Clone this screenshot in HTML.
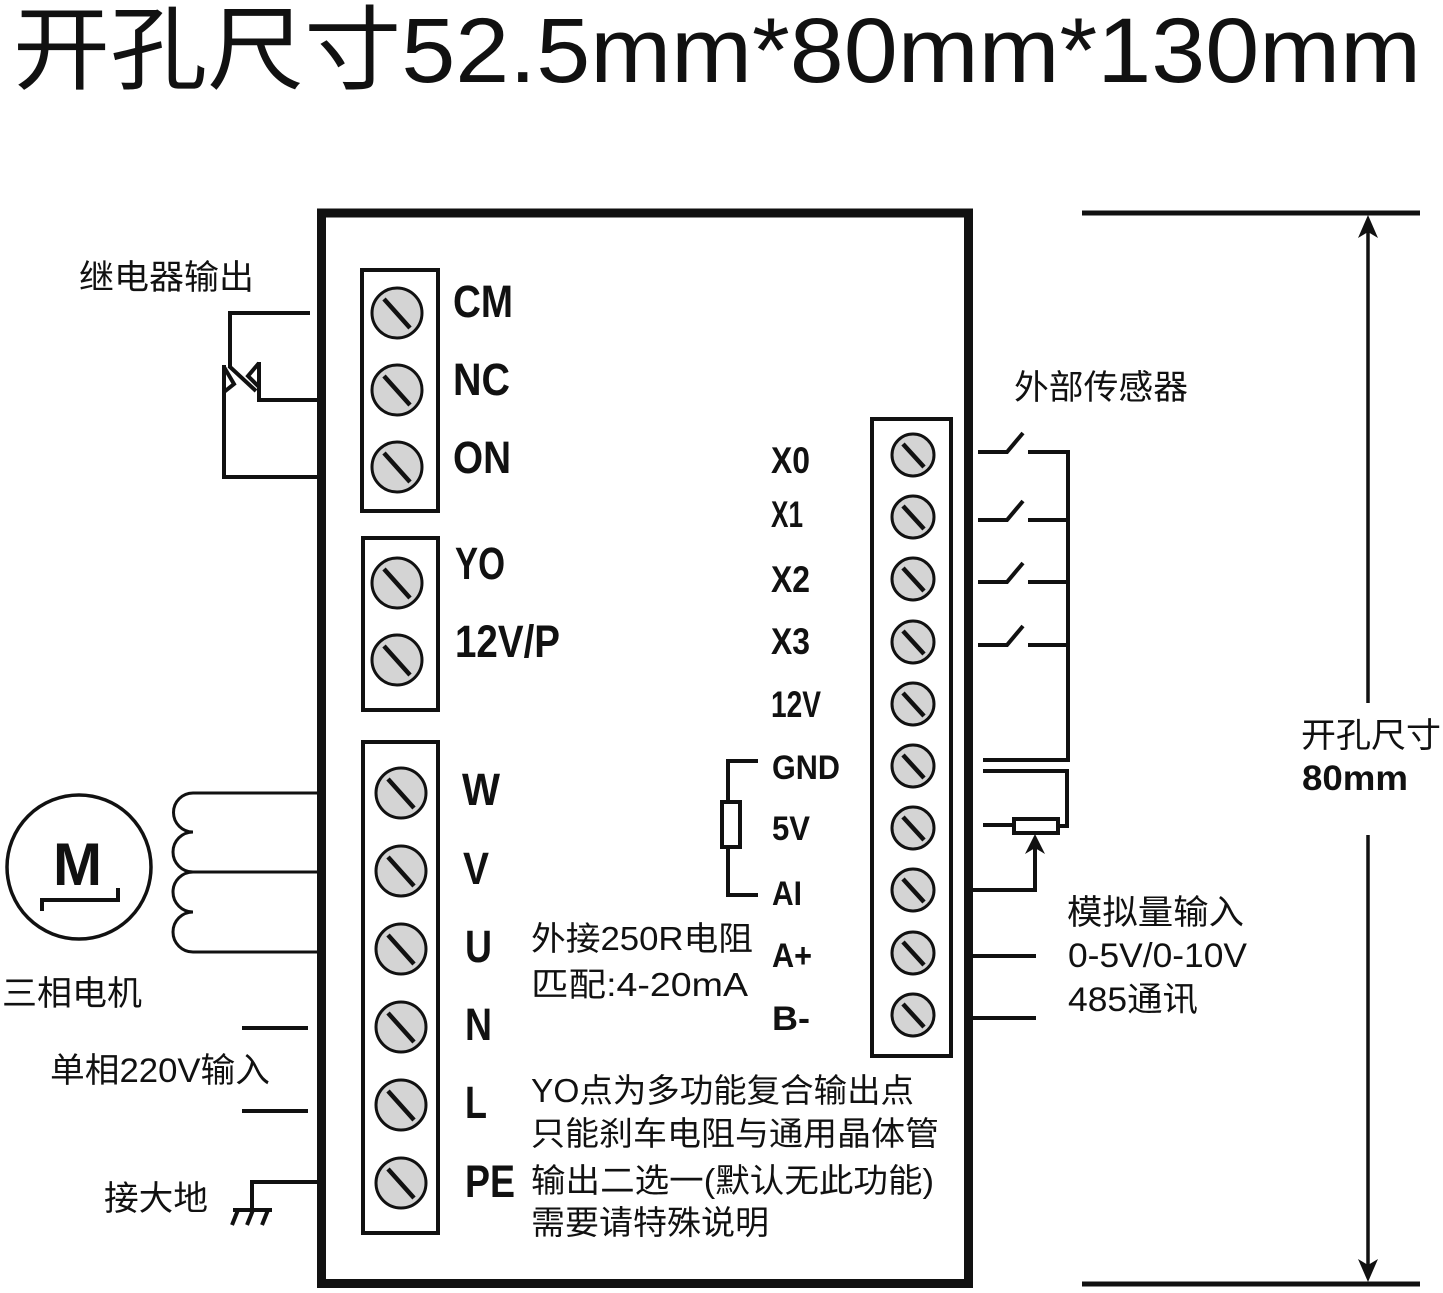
<!DOCTYPE html>
<html>
<head>
<meta charset="utf-8">
<style>
  html, body { margin: 0; padding: 0; background: #fff; }
  body { width: 1443px; height: 1293px; overflow: hidden; }
  svg { display: block; }
  .cjk { font-family: "Liberation Sans", "Noto Sans CJK SC", sans-serif; fill: #111; }
  .bl { font-family: "Liberation Sans", "Noto Sans CJK SC", sans-serif; font-weight: bold; fill: #111; }
</style>
</head>
<body>
<svg width="1443" height="1293" viewBox="0 0 1443 1293" xmlns="http://www.w3.org/2000/svg">
  <rect x="0" y="0" width="1443" height="1293" fill="#fff"/>

  <!-- Title -->
  <text class="cjk" x="13" y="82" font-size="92" font-weight="normal" textLength="1408" lengthAdjust="spacingAndGlyphs">开孔尺寸52.5mm*80mm*130mm</text>

  <!-- Main box -->
  <rect x="321.5" y="213" width="647" height="1070.5" fill="none" stroke="#111" stroke-width="9"/>

  <!-- Terminal blocks -->
  <g fill="none" stroke="#111" stroke-width="4">
    <rect x="362" y="270" width="76" height="241"/>
    <rect x="363" y="538" width="75" height="172"/>
    <rect x="363" y="742" width="75" height="491"/>
    <rect x="872" y="419" width="79" height="637"/>
  </g>

  <!-- Screws left -->
  <g stroke="#111">
    <g fill="#d4d4d4" stroke-width="3">
      <circle cx="397" cy="313" r="25"/>
      <circle cx="397" cy="390" r="25"/>
      <circle cx="397" cy="467" r="25"/>
      <circle cx="397" cy="583" r="25"/>
      <circle cx="397" cy="660" r="25"/>
      <circle cx="401" cy="793" r="25"/>
      <circle cx="401" cy="871" r="25"/>
      <circle cx="401" cy="949" r="25"/>
      <circle cx="401" cy="1027" r="25"/>
      <circle cx="401" cy="1105" r="25"/>
      <circle cx="401" cy="1183" r="25"/>
    </g>
    <g stroke-width="4.5" stroke-linecap="butt">
      <line x1="384" y1="299" x2="410" y2="328"/>
      <line x1="384" y1="376" x2="410" y2="405"/>
      <line x1="384" y1="453" x2="410" y2="482"/>
      <line x1="384" y1="569" x2="410" y2="598"/>
      <line x1="384" y1="646" x2="410" y2="675"/>
      <line x1="388" y1="779" x2="414" y2="808"/>
      <line x1="388" y1="857" x2="414" y2="886"/>
      <line x1="388" y1="935" x2="414" y2="964"/>
      <line x1="388" y1="1013" x2="414" y2="1042"/>
      <line x1="388" y1="1091" x2="414" y2="1120"/>
      <line x1="388" y1="1169" x2="414" y2="1198"/>
    </g>
  </g>

  <!-- Screws right -->
  <g stroke="#111">
    <g fill="#d4d4d4" stroke-width="3">
      <circle cx="913" cy="455" r="21"/>
      <circle cx="913" cy="517" r="21"/>
      <circle cx="913" cy="579" r="21"/>
      <circle cx="913" cy="642" r="21"/>
      <circle cx="913" cy="704" r="21"/>
      <circle cx="913" cy="766" r="21"/>
      <circle cx="913" cy="828" r="21"/>
      <circle cx="913" cy="890" r="21"/>
      <circle cx="913" cy="953" r="21"/>
      <circle cx="913" cy="1015" r="21"/>
    </g>
    <g stroke-width="4.5">
      <line x1="903" y1="444" x2="924" y2="467"/>
      <line x1="903" y1="506" x2="924" y2="529"/>
      <line x1="903" y1="568" x2="924" y2="591"/>
      <line x1="903" y1="631" x2="924" y2="654"/>
      <line x1="903" y1="693" x2="924" y2="716"/>
      <line x1="903" y1="755" x2="924" y2="778"/>
      <line x1="903" y1="817" x2="924" y2="840"/>
      <line x1="903" y1="879" x2="924" y2="902"/>
      <line x1="903" y1="942" x2="924" y2="965"/>
      <line x1="903" y1="1004" x2="924" y2="1027"/>
    </g>
  </g>

  <!-- Left labels (bold) -->
  <g class="bl" font-size="45">
    <text x="453" y="317" textLength="60" lengthAdjust="spacingAndGlyphs">CM</text>
    <text x="453" y="395" textLength="57" lengthAdjust="spacingAndGlyphs">NC</text>
    <text x="453" y="473" textLength="58" lengthAdjust="spacingAndGlyphs">ON</text>
    <text x="455" y="579" textLength="50" lengthAdjust="spacingAndGlyphs">YO</text>
    <text x="455" y="657" textLength="105" lengthAdjust="spacingAndGlyphs">12V/P</text>
    <text x="462" y="805" textLength="38" lengthAdjust="spacingAndGlyphs">W</text>
    <text x="463" y="884" textLength="26" lengthAdjust="spacingAndGlyphs">V</text>
    <text x="465" y="962" textLength="27" lengthAdjust="spacingAndGlyphs">U</text>
    <text x="465" y="1040" textLength="27" lengthAdjust="spacingAndGlyphs">N</text>
    <text x="465" y="1118" textLength="22" lengthAdjust="spacingAndGlyphs">L</text>
    <text x="465" y="1197" textLength="50" lengthAdjust="spacingAndGlyphs">PE</text>
  </g>

  <!-- Right labels (bold) -->
  <g class="bl" font-size="37">
    <text x="771" y="473" textLength="39" lengthAdjust="spacingAndGlyphs">X0</text>
    <text x="771" y="527" textLength="32" lengthAdjust="spacingAndGlyphs">X1</text>
    <text x="771" y="592" textLength="39" lengthAdjust="spacingAndGlyphs">X2</text>
    <text x="771" y="654" textLength="39" lengthAdjust="spacingAndGlyphs">X3</text>
    <text x="771" y="717" textLength="50" lengthAdjust="spacingAndGlyphs">12V</text>
  </g>
  <g class="bl" font-size="34">
    <text x="772" y="779" textLength="68" lengthAdjust="spacingAndGlyphs">GND</text>
    <text x="772" y="840" textLength="38" lengthAdjust="spacingAndGlyphs">5V</text>
    <text x="772" y="905" textLength="30" lengthAdjust="spacingAndGlyphs">AI</text>
    <text x="772" y="967" textLength="40" lengthAdjust="spacingAndGlyphs">A+</text>
    <text x="772" y="1030" textLength="38" lengthAdjust="spacingAndGlyphs">B-</text>
  </g>

  <!-- Relay wiring -->
  <g fill="none" stroke="#111" stroke-width="4" stroke-linejoin="miter">
    <path d="M310,313 H230 V368"/>
    <line x1="229" y1="366" x2="256" y2="391"/>
    <path d="M224,367 L234,384 L224,392"/>
    <path d="M224,365 V477 H318"/>
    <path d="M259,363 L248,376 L259,387"/>
    <path d="M259,362 V400 H318"/>
  </g>

  <!-- Motor -->
  <circle cx="79" cy="867" r="72" fill="none" stroke="#111" stroke-width="3.5"/>
  <text class="bl" x="53" y="885" font-size="60" textLength="49" lengthAdjust="spacingAndGlyphs">M</text>
  <path d="M42,911 V900 H118 V888" fill="none" stroke="#111" stroke-width="4"/>
  <path d="M318,793 H193 A19.5,19.5 0 0 0 193,832 A20,20 0 0 0 193,872 H318 M193,872 A20,20 0 0 0 193,912 A20,20 0 0 0 193,952 H318" fill="none" stroke="#111" stroke-width="3"/>

  <!-- Single phase input lines -->
  <g stroke="#111" stroke-width="4">
    <line x1="242" y1="1028" x2="308" y2="1028"/>
    <line x1="242" y1="1111" x2="308" y2="1111"/>
  </g>

  <!-- Ground -->
  <g fill="none" stroke="#111" stroke-width="4">
    <path d="M318,1182 H252 V1210"/>
    <path d="M233,1210 H272"/>
    <path d="M238,1210 L232,1225"/>
    <path d="M253,1210 L247,1225"/>
    <path d="M268,1210 L262,1225"/>
  </g>

  <!-- 250R resistor -->
  <g fill="none" stroke="#111" stroke-width="4">
    <path d="M758,761 H728 V800"/>
    <rect x="722" y="802" width="18" height="45"/>
    <path d="M728,849 V895 H758"/>
  </g>

  <!-- Sensor switches / pot / comms -->
  <g fill="none" stroke="#111" stroke-width="4">
    <path d="M978,452 H1007 L1023,433"/>
    <path d="M1028,452 H1068"/>
    <path d="M978,520 H1007 L1023,501"/>
    <path d="M1028,520 H1068"/>
    <path d="M978,582 H1007 L1023,563"/>
    <path d="M1028,582 H1068"/>
    <path d="M978,645 H1007 L1023,626"/>
    <path d="M1028,645 H1068"/>
    <path d="M1068,450 V760 H983"/>
    <path d="M983,771 H1067 V826 H1060"/>
    <rect x="1014" y="819" width="44" height="14"/>
    <path d="M983,825 H1012"/>
    <path d="M973,890 H1035 V846"/>
    <path d="M973,956 H1036"/>
    <path d="M973,1018 H1036"/>
  </g>
  <polygon points="1035,834 1025,854 1035,848 1045,854" fill="#111"/>

  <!-- Dimension -->
  <g stroke="#111">
    <line x1="1082" y1="213" x2="1420" y2="213" stroke-width="5"/>
    <line x1="1082" y1="1284" x2="1420" y2="1284" stroke-width="5"/>
    <line x1="1368" y1="230" x2="1368" y2="703" stroke-width="3.5"/>
    <line x1="1368" y1="835" x2="1368" y2="1268" stroke-width="3.5"/>
  </g>
  <polygon points="1368,215 1358,238 1368,232 1378,238" fill="#111"/>
  <polygon points="1368,1282 1358,1259 1368,1265 1378,1259" fill="#111"/>

  <!-- CJK labels -->
  <g class="cjk" font-size="34">
    <text x="79" y="289" textLength="175" lengthAdjust="spacingAndGlyphs">继电器输出</text>
    <text x="1014" y="399" textLength="174" lengthAdjust="spacingAndGlyphs">外部传感器</text>
    <text x="2" y="1005" textLength="140" lengthAdjust="spacingAndGlyphs">三相电机</text>
    <text x="50" y="1082" textLength="220" lengthAdjust="spacingAndGlyphs">单相220V输入</text>
    <text x="104" y="1210" textLength="104" lengthAdjust="spacingAndGlyphs">接大地</text>
    <text x="1067" y="924" textLength="177" lengthAdjust="spacingAndGlyphs">模拟量输入</text>
    <text x="1068" y="967" textLength="179" lengthAdjust="spacingAndGlyphs">0-5V/0-10V</text>
    <text x="1068" y="1011" textLength="130" lengthAdjust="spacingAndGlyphs">485通讯</text>
    <text x="1301" y="747" textLength="140" lengthAdjust="spacingAndGlyphs">开孔尺寸</text>
  </g>
  <text class="bl" x="1302" y="790" font-size="35" textLength="106" lengthAdjust="spacingAndGlyphs">80mm</text>

  <g class="cjk" font-size="33">
    <text x="531" y="950" textLength="222" lengthAdjust="spacingAndGlyphs">外接250R电阻</text>
    <text x="531" y="996" textLength="217" lengthAdjust="spacingAndGlyphs">匹配:4-20mA</text>
    <text x="531" y="1102" textLength="383" lengthAdjust="spacingAndGlyphs">YO点为多功能复合输出点</text>
    <text x="531" y="1145" textLength="408" lengthAdjust="spacingAndGlyphs">只能刹车电阻与通用晶体管</text>
    <text x="531" y="1192" textLength="403" lengthAdjust="spacingAndGlyphs">输出二选一(默认无此功能)</text>
    <text x="531" y="1234" textLength="238" lengthAdjust="spacingAndGlyphs">需要请特殊说明</text>
  </g>
</svg>
</body>
</html>
